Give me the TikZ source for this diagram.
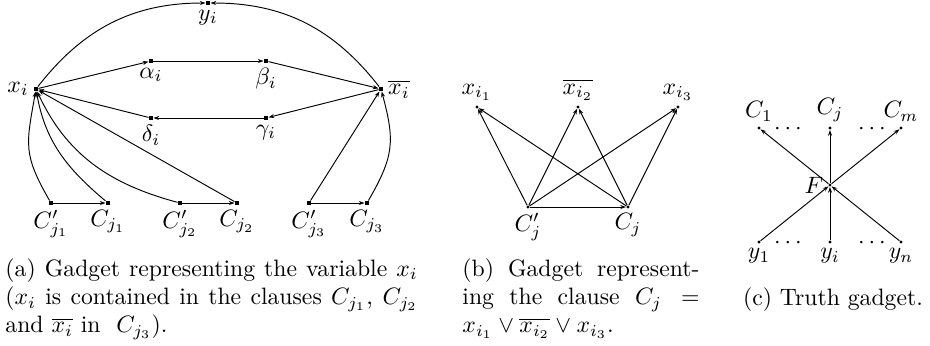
\documentclass[tikz,border=0pt]{standalone}
\usetikzlibrary{arrows.meta}
\begin{document}
\begin{tikzpicture}[x=0.422pt, y=0.422pt,
  sq/.style={fill, rectangle, inner sep=0pt, minimum size=1.7pt},
  dt/.style={fill, circle, inner sep=0pt, minimum size=1.3pt},
  every label/.style={inner sep=1.8pt},
  edge/.style={-{Stealth[length=2.4pt,width=1.7pt]}, line width=0.4pt},
  dotsbox/.style={inner sep=0pt, anchor=base}]
\useasboundingbox (0,0) rectangle (930,-345);

% ---------- (a) ----------
\node[sq, label=left:$x_i$] (xi) at (36,-89) {};
\node[sq, label=right:$\overline{x_i}$] (xb) at (381,-89) {};
\node[sq, label=below:$y_i$] (yi) at (208,-3) {};
\node[sq, label=below:$\alpha_i$] (al) at (151,-61) {};
\node[sq, label=below:$\beta_i$] (be) at (266,-61) {};
\node[sq, label=below:$\delta_i$] (de) at (151,-118) {};
\node[sq, label=below:$\gamma_i$] (ga) at (266,-118) {};
\node[sq, label=below:$C'_{j_1}$] (cp1) at (51,-203) {};
\node[sq, label=below:$C_{j_1}$] (c1) at (108,-203) {};
\node[sq, label=below:$C'_{j_2}$] (cp2) at (180,-203) {};
\node[sq, label=below:$C_{j_2}$] (c2) at (237,-203) {};
\node[sq, label=below:$C'_{j_3}$] (cp3) at (309,-203) {};
\node[sq, label=below:$C_{j_3}$] (c3) at (367,-203) {};

\draw[edge] (xi) to[out=52, in=180] (yi);
\draw[edge] (xb) to[out=128, in=0] (yi);
\draw[edge] (xi) -- (al);
\draw[edge] (al) -- (be);
\draw[edge] (be) -- (xb);
\draw[edge] (xb) -- (ga);
\draw[edge] (ga) -- (de);
\draw[edge] (de) -- (xi);
\draw[edge] (cp1) -- (c1);
\draw[edge] (cp2) -- (c2);
\draw[edge] (cp3) -- (c3);
\draw[edge] (cp1) to[out=120, in=-100, looseness=1.25] (xi);
\draw[edge] (c1) to[out=140, in=-80] (xi);
\draw[edge] (cp2) to[out=165, in=-65] (xi);
\draw[edge] (c2) -- (xi);
\draw[edge] (cp3) -- (xb);
\draw[edge] (c3) to[out=60, in=-75, looseness=1.2] (xb);

\node[anchor=base west, inner sep=0pt] (capa) at (5,-276) {\parbox[t]{174pt}{%
  \makebox[\linewidth][s]{(a) Gadget representing the variable $x_i$}\\
  \makebox[\linewidth][s]{($x_i$ is contained in the clauses $C_{j_1}$, $C_{j_2}$}\\
  and $\overline{x_i}$ in \ $C_{j_3}$).}};

% ---------- (b) ----------
\node[dt, label=above:$x_{i_1}$] (b1) at (477,-107) {};
\node[dt, label=above:$\overline{x_{i_2}}$] (b2) at (578,-107) {};
\node[dt, label=above:$x_{i_3}$] (b3) at (678,-107) {};
\node[dt, label=below:$C'_j$] (bcp) at (528,-207) {};
\node[dt, label=below:$C_j$] (bc) at (628,-207) {};
\draw[edge] (bcp) -- (b1);
\draw[edge] (bcp) -- (b2);
\draw[edge] (bcp) -- (b3);
\draw[edge] (bc) -- (b1);
\draw[edge] (bc) -- (b2);
\draw[edge] (bc) -- (b3);
\draw[edge] (bcp) -- (bc);

\node[anchor=base west, inner sep=0pt] (capb) at (462,-276) {\parbox[t]{100pt}{%
  \makebox[\linewidth][s]{(b) Gadget represent-}\\
  \makebox[\linewidth][s]{ing the clause $C_j =$}\\
  $x_{i_1} \vee \overline{x_{i_2}} \vee x_{i_3}$.}};

% ---------- (c) ----------
\node[dt, label=above:$C_1$] (k1) at (759,-128) {};
\node[dt, label=above:$C_j$] (kj) at (830,-128) {};
\node[dt, label=above:$C_m$] (km) at (901,-128) {};
\node[dt, label=left:$F$] (f) at (830,-185) {};
\node[dt, label=below:$y_1$] (z1) at (759,-242) {};
\node[dt, label=below:$y_i$] (zi) at (830,-242) {};
\node[dt, label=below:$y_n$] (zn) at (901,-242) {};
\node[dotsbox] (d1) at (788,-134) {$\cdots$};
\node[dotsbox] (d2) at (872,-134) {$\cdots$};
\node[dotsbox] (d3) at (788,-248) {$\cdots$};
\node[dotsbox] (d4) at (872,-248) {$\cdots$};
\draw[edge] (f) -- (k1);
\draw[edge] (f) -- (kj);
\draw[edge] (f) -- (km);
\draw[edge] (z1) -- (f);
\draw[edge] (zi) -- (f);
\draw[edge] (zn) -- (f);

\node[anchor=base, inner sep=0pt] (capc) at (833,-305) {(c) Truth gadget.};
\end{tikzpicture}
\end{document}
